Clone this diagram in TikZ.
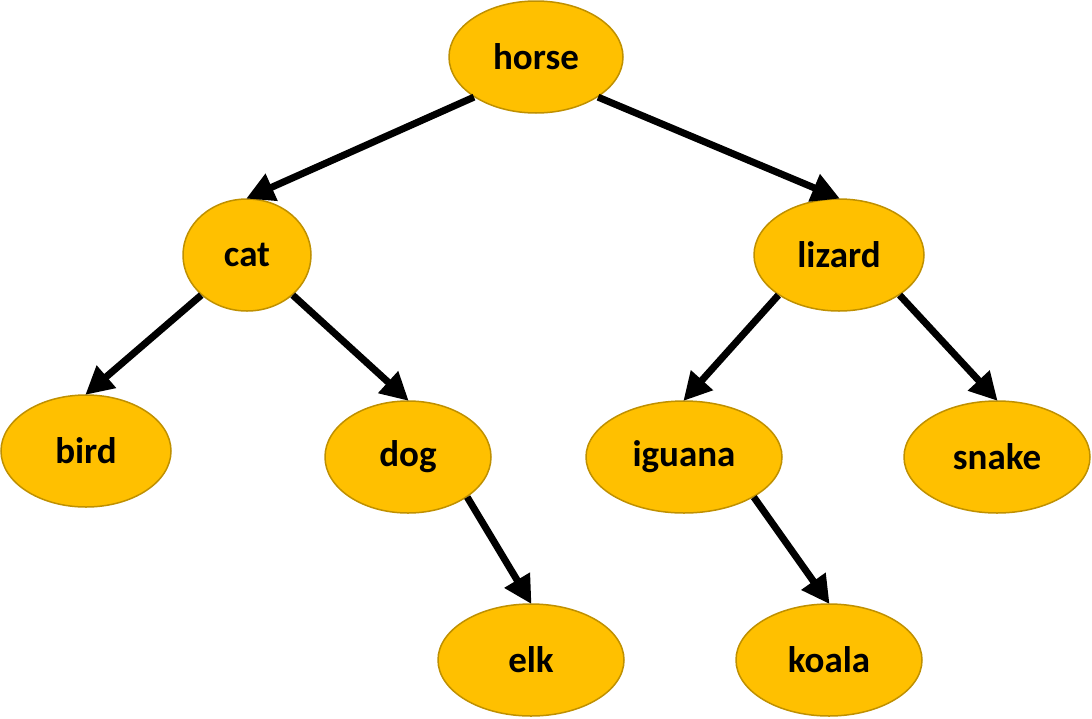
\documentclass[tikz,border=0pt]{standalone}
\usepackage{fontspec}
\setmainfont{Carlito}
\usetikzlibrary{shapes.geometric,arrows.meta}
\definecolor{gold}{HTML}{FFC000}
\definecolor{goldedge}{HTML}{BF9000}
\begin{document}
\begin{tikzpicture}[x=1pt,y=-1pt,
  animal/.style={ellipse,draw=goldedge,fill=gold,line width=1.5pt,inner sep=0pt,
    minimum height=112pt,font=\fontsize{37}{42}\selectfont\bfseries},
  link/.style={line width=7pt,-{Triangle[length=28pt,width=28pt]},shorten >=-1pt}]
\useasboundingbox (0,0) rectangle (1092,718);
\node[animal,minimum width=174pt] (horse) at (536,57) {horse};
\node[animal,minimum width=128pt] (cat) at (247,255) {cat};
\node[animal,minimum width=170pt] (lizard) at (839,255) {lizard};
\node[animal,minimum width=170pt] (bird) at (86,451) {bird};
\node[animal,minimum width=166pt] (dog) at (408,457) {dog};
\node[animal,minimum width=196pt] (iguana) at (684,457) {iguana};
\node[animal,minimum width=186pt] (snake) at (997,457) {snake};
\node[animal,minimum width=186pt] (elk) at (531,660) {elk};
\node[animal,minimum width=186pt] (koala) at (829,660) {koala};
\draw[link] (horse.south west) -- (cat.north);
\draw[link] (horse.south east) -- (lizard.north);
\draw[link] (cat.south west) -- (bird.north);
\draw[link] (cat.south east) -- (dog.north);
\draw[link] (lizard.south west) -- (iguana.north);
\draw[link] (lizard.south east) -- (snake.north);
\draw[link] (dog.south east) -- (elk.north);
\draw[link] (iguana.south east) -- (koala.north);
\end{tikzpicture}
\end{document}
